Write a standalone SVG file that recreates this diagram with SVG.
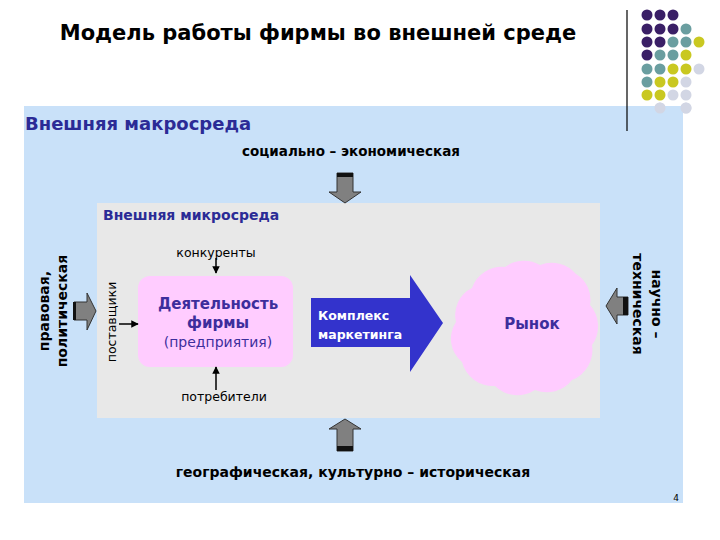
<svg xmlns="http://www.w3.org/2000/svg" width="720" height="540" viewBox="0 0 720 540">
<style>
.t{font-family:"DejaVu Sans","Liberation Sans",sans-serif}
.b{font-weight:bold}
.blk{fill:#000}
.navy{fill:#2b2b96}
.gar{fill:#808080;stroke:#333;stroke-width:1}
.band{fill:#111}
.sm{stroke:#000;stroke-width:1.5;fill:none}
</style>
<defs>
<marker id="ah" viewBox="0 0 10 10" refX="9" refY="5" markerWidth="5" markerHeight="5" orient="auto"><path d="M0,0 L10,5 L0,10 Z" fill="#000"/></marker>
</defs>
<rect width="720" height="540" fill="#fff"/>
<g id="decor">
<line x1="627" y1="10" x2="627" y2="131" stroke="#000" stroke-width="1.2"/>
<g fill="#3a1f66">
<circle cx="647" cy="15" r="5.5"/><circle cx="660" cy="15" r="5.5"/><circle cx="673" cy="15" r="5.5"/>
<circle cx="647" cy="29" r="5.5"/><circle cx="660" cy="29" r="5.5"/><circle cx="673" cy="29" r="5.5"/>
<circle cx="647" cy="42" r="5.5"/><circle cx="660" cy="42" r="5.5"/>
<circle cx="647" cy="55" r="5.5"/>
</g>
<g fill="#6a9ea0">
<circle cx="686" cy="29" r="5.5"/>
<circle cx="673" cy="42" r="5.5"/><circle cx="686" cy="42" r="5.5"/>
<circle cx="660" cy="55" r="5.5"/><circle cx="673" cy="55" r="5.5"/>
<circle cx="647" cy="69" r="5.5"/><circle cx="660" cy="69" r="5.5"/>
<circle cx="647" cy="82" r="5.5"/>
</g>
<g fill="#c9c821">
<circle cx="699" cy="42" r="5.5"/>
<circle cx="686" cy="55" r="5.5"/>
<circle cx="673" cy="69" r="5.5"/><circle cx="686" cy="69" r="5.5"/>
<circle cx="660" cy="82" r="5.5"/><circle cx="673" cy="82" r="5.5"/>
<circle cx="647" cy="95" r="5.5"/><circle cx="660" cy="95" r="5.5"/>
</g>
<g fill="#d2d6e4">
<circle cx="699" cy="69" r="5.5"/>
<circle cx="686" cy="82" r="5.5"/>
<circle cx="673" cy="95" r="5.5"/><circle cx="686" cy="95" r="5.5"/>
<circle cx="660" cy="108" r="5.5"/><circle cx="686" cy="108" r="5.5"/>
</g>
</g>
<text class="t b blk" x="318" y="40" font-size="21" text-anchor="middle">Модель работы фирмы во внешней среде</text>
<g id="macro">
<rect x="24" y="106" width="659" height="397" fill="#c9e1f9"/>
<line x1="627" y1="106" x2="627" y2="131" stroke="#000" stroke-width="1.2"/>
<circle cx="660" cy="108" r="5.5" fill="#d2d6e4"/><circle cx="686" cy="108" r="5.5" fill="#d2d6e4"/>
<text class="t b navy" x="25" y="130" font-size="18">Внешняя макросреда</text>
<text class="t b blk" x="351" y="156" font-size="13.5" text-anchor="middle">социально – экономическая</text>
<text class="t b blk" x="353" y="477" font-size="14" text-anchor="middle">географическая, культурно – историческая</text>
<text class="t blk" x="49" y="311" font-size="14" font-weight="bold" text-anchor="middle" transform="rotate(-90 49 311)">правовая,</text>
<text class="t blk" x="67" y="311" font-size="14" font-weight="bold" text-anchor="middle" transform="rotate(-90 67 311)">политическая</text>
<text class="t blk" x="652" y="304" font-size="14" font-weight="bold" text-anchor="middle" transform="rotate(90 652 304)">научно –</text>
<text class="t blk" x="633" y="304" font-size="14" font-weight="bold" text-anchor="middle" transform="rotate(90 633 304)">техническая</text>
<text class="t blk" x="676" y="501" font-size="9" text-anchor="middle">4</text>
</g>
<g id="micro">
<rect x="97" y="203" width="503" height="215" fill="#e8e8e8"/>
<text class="t b navy" x="103" y="220" font-size="14">Внешняя микросреда</text>
<text class="t blk" x="216" y="257" font-size="12.5" text-anchor="middle">конкуренты</text>
<text class="t blk" x="224" y="401" font-size="12.5" text-anchor="middle">потребители</text>
<text class="t blk" x="116" y="322" font-size="12.5" text-anchor="middle" transform="rotate(-90 116 322)">поставщики</text>
</g>
<g id="firm">
<rect x="138" y="276" width="155" height="91" rx="12" fill="#ffccff"/>
<text class="t b" x="218" y="309" font-size="15" fill="#3d2e9c" text-anchor="middle">Деятельность</text>
<text class="t b" x="218" y="328" font-size="15" fill="#3d2e9c" text-anchor="middle">фирмы</text>
<text class="t" x="218" y="347" font-size="14" fill="#3d2e9c" text-anchor="middle">(предприятия)</text>
</g>
<g id="marketing">
<path d="M311,298 H410 V275 L443,323 L410,372 V347 H311 Z" fill="#3333cc"/>
<text class="t b" x="318" y="320" font-size="12.5" fill="#fff">Комплекс</text>
<text class="t b" x="318" y="339" font-size="12.5" fill="#fff">маркетинга</text>
</g>
<g id="market">
<path d="M472,288 A32,32 0 0 1 505,267 A32,32 0 0 1 540,265 A32,32 0 0 1 576,274 A30,30 0 0 1 590,305 A32,32 0 0 1 592,345 A32,32 0 0 1 572,380 A32,32 0 0 1 535,390 A32,32 0 0 1 495,386 A32,32 0 0 1 462,362 A30,30 0 0 1 456,322 A30,30 0 0 1 472,288 Z" fill="#ffccff"/>
<text class="t b" x="532" y="329" font-size="15" fill="#3d2e9c" text-anchor="middle">Рынок</text>
</g>
<g id="connectors">
<path class="gar" d="M337,173 H353 V192 H361 L345,203 L329,192 H337 Z"/>
<rect class="band" x="337" y="173" width="16" height="4"/>
<path class="gar" d="M337,451 H353 V429 H361 L345,419 L329,429 H337 Z"/>
<rect class="band" x="337" y="446" width="16" height="5"/>
<path class="gar" d="M74,302 H87 V293 L96,311 L87,330 V320 H74 Z"/>
<rect class="band" x="73" y="302" width="3" height="18"/>
<path class="gar" d="M628,297 H617 V288 L606,306 L617,324 V315 H628 Z"/>
<rect class="band" x="623" y="297" width="5" height="18"/>
<line class="sm" x1="216" y1="258" x2="216" y2="273" marker-end="url(#ah)"/>
<line class="sm" x1="216" y1="390" x2="216" y2="367" marker-end="url(#ah)"/>
<line class="sm" x1="119" y1="324" x2="138" y2="324" marker-end="url(#ah)"/>
</g>
</svg>
